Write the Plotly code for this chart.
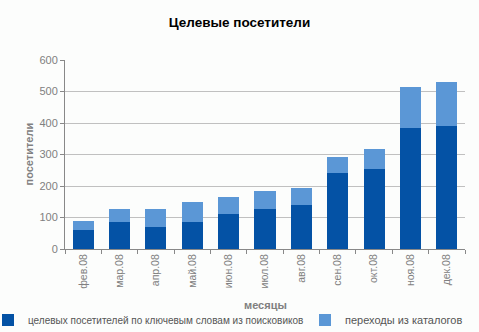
import plotly.graph_objects as go

# Monthly visitor counts (2008)
months = ["фев.08", "мар.08", "апр.08", "май.08", "июн.08", "июл.08",
          "авг.08", "сен.08", "окт.08", "ноя.08", "дек.08"]
search_keywords = [60, 86, 70, 86, 111, 127, 140, 241, 254, 384, 390]
catalog_referrals = [29, 41, 57, 63, 54, 57, 54, 51, 63, 130, 140]

name_search = "целевых посетителей по ключевым словам из поисковиков"
name_catalog = "переходы из каталогов"

FONT = "Liberation Sans, Arial, sans-serif"
GRAY = "#808080"

W, H = 479, 332
L, R, T, B = 65, 14, 60, 83
PW, PH = W - L - R, H - T - B


def px_x(px):
    return (px - L) / PW


def px_y(py):
    return (H - B - py) / PH


fig = go.Figure()
fig.add_trace(go.Bar(
    x=months, y=search_keywords, name=name_search,
    marker=dict(color="#0452A5", line=dict(width=0)),
    legend="legend", showlegend=True,
))
fig.add_trace(go.Bar(
    x=months, y=catalog_referrals, name=name_catalog,
    marker=dict(color="#5B97D6", line=dict(width=0)),
    legend="legend2", showlegend=True,
))

fig.update_layout(
    width=W, height=H, showlegend=True,
    barmode="stack", bargap=0.42,
    paper_bgcolor="#FCFDFC", plot_bgcolor="#FCFDFC",
    margin=dict(l=L, r=R, t=T, b=B),
    font=dict(family=FONT, size=10, color=GRAY),
    title=dict(text="<b>Целевые посетители</b>", x=0.5, xanchor="center",
               y=1 - 22 / H, yanchor="middle",
               font=dict(family=FONT, size=13.5, color="#000000")),
    legend=dict(orientation="h", xref="container", yref="container",
                x=0, xanchor="left", y=1 - 320 / H, yanchor="middle",
                font=dict(family=FONT, size=10, color="#555555"),
                indentation=-12, visible=True,
                bgcolor="rgba(0,0,0,0)", itemwidth=30),
    legend2=dict(orientation="h", xref="container", yref="container",
                 x=305 / W, xanchor="left", y=1 - 320 / H, yanchor="middle",
                 font=dict(family=FONT, size=11, color="#555555"),
                 visible=True, bgcolor="rgba(0,0,0,0)", itemwidth=30),
    xaxis=dict(
        type="category", tickson="boundaries", ticks="outside", ticklen=4,
        tickcolor="#888888", tickangle=-90, showline=True, linecolor="#888888",
        showgrid=False, tickfont=dict(family=FONT, size=10.5, color=GRAY),
    ),
    yaxis=dict(
        range=[0, 600], dtick=100, ticks="outside", ticklen=4,
        tickcolor="#888888", showline=True, linecolor="#888888",
        gridcolor="#C0C0C0", gridwidth=1, zeroline=False,
        tickfont=dict(family=FONT, size=11, color=GRAY),
    ),
    annotations=[
        dict(text="<b>месяцы</b>", xref="paper", yref="paper",
             x=0.5, y=px_y(305), xanchor="center", yanchor="middle",
             showarrow=False, font=dict(family=FONT, size=11, color=GRAY)),
        dict(text="<b>посетители</b>", xref="paper", yref="paper",
             x=px_x(28), y=0.5, xanchor="center", yanchor="middle",
             textangle=-90, showarrow=False,
             font=dict(family=FONT, size=11, color=GRAY)),
    ],
)

fig.write_html("out.html")
